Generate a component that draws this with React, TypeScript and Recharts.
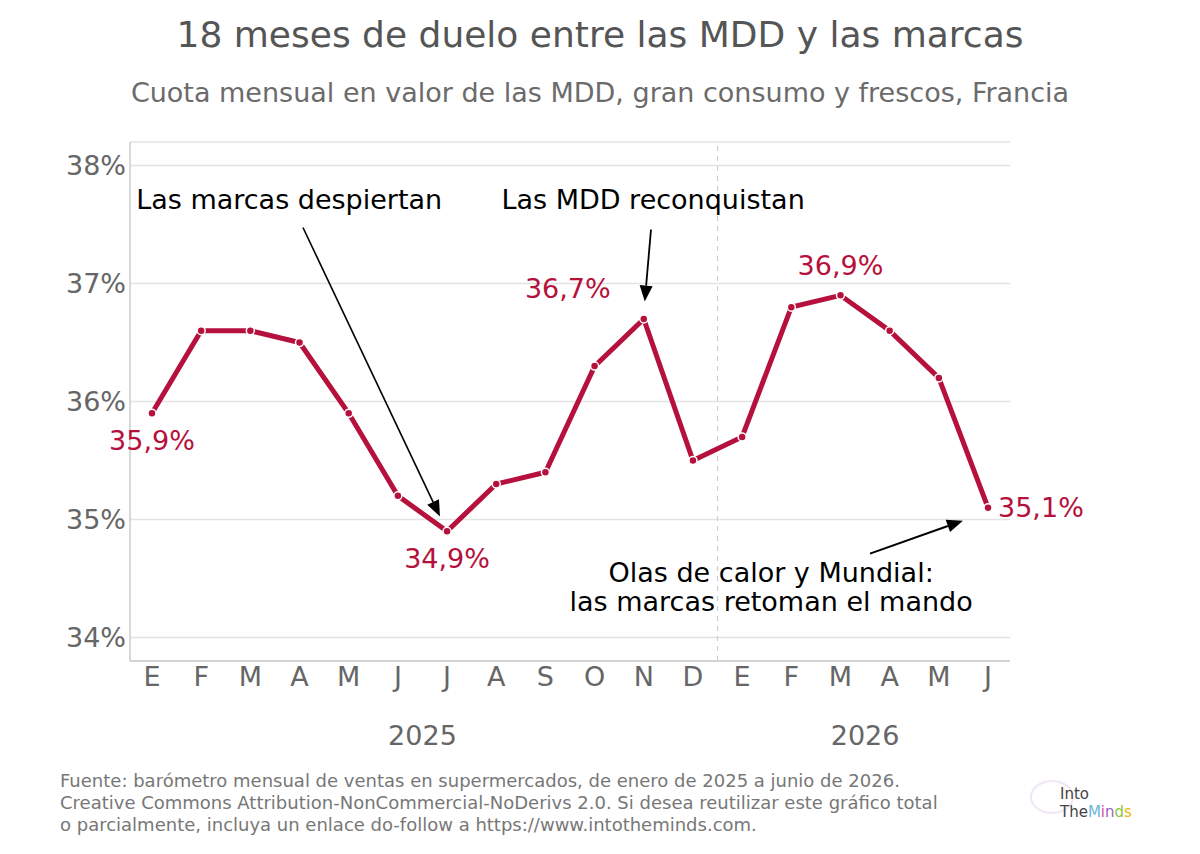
import { LineChart, Line, XAxis, YAxis, CartesianGrid, ReferenceLine, ReferenceDot, LabelList } from "recharts";

const months = ["E", "F", "M", "A", "M", "J", "J", "A", "S", "O", "N", "D", "E", "F", "M", "A", "M", "J"];
const shares = [35.9, 36.6, 36.6, 36.5, 35.9, 35.2, 34.9, 35.3, 35.4, 36.3, 36.7, 35.5, 35.7, 36.8, 36.9, 36.6, 36.2, 35.1];
const yTicks = [34, 35, 36, 37, 38];
const years = ["2025", "2026"];
const yearTicks = [5.5, 14.5];
const labelledPoints = [0, 6, 10, 14, 17];

const RED = "#b5113c";
const FONT = "'DejaVu Sans', Verdana, sans-serif";
const X_DOMAIN: [number, number] = [-0.447, 17.447];

const data = shares.map((v, i) => ({ idx: i, share: v }));

// label offsets relative to the point (px)
const labelOffsets: Record<number, { dx: number; dy: number; anchor: string }> = {
  0: { dx: 0, dy: 27, anchor: "middle" },
  6: { dx: 0, dy: 27, anchor: "middle" },
  10: { dx: -76, dy: -30, anchor: "middle" },
  14: { dx: 0, dy: -30, anchor: "middle" },
  17: { dx: 10, dy: 0, anchor: "start" },
};

const notes = [
  { x: 2.79, y: 37.71, text: "Las marcas despiertan" },
  { x: 10.19, y: 37.71, text: "Las MDD reconquistan" },
  { x: 12.59, y: 34.55, text: "Olas de calor y Mundial:" },
  { x: 12.59, y: 34.305, text: "las marcas retoman el mando" },
];

const arrows = [
  { from: { x: 3.07, y: 37.475 }, to: { x: 5.856, y: 35.025 }, w: 1.6 },
  { from: { x: 10.147, y: 37.458 }, to: { x: 10.02, y: 36.847 }, w: 1.8 },
  { from: { x: 14.6, y: 34.71 }, to: { x: 16.49, y: 34.99 }, w: 2 },
];

const fmt = (v: number) => `${v.toFixed(1).replace(".", ",")}%`;

const Arrow = (w: number) => (p: any) => {
  const { x1, y1, x2, y2 } = p;
  const ang = Math.atan2(y2 - y1, x2 - x1);
  const len = 16;
  const half = 6.5;
  const bx = x2 - len * Math.cos(ang);
  const by = y2 - len * Math.sin(ang);
  const nx = -Math.sin(ang) * half;
  const ny = Math.cos(ang) * half;
  return (
    <g>
      <line x1={x1} y1={y1} x2={bx} y2={by} stroke="#000" strokeWidth={w} />
      <polygon points={`${x2},${y2} ${bx + nx},${by + ny} ${bx - nx},${by - ny}`} fill="#000" />
    </g>
  );
};

const PointLabel = (p: any) => {
  const { x, y, index, value } = p;
  const o = labelOffsets[index];
  if (!o) return null;
  return (
    <text x={x + o.dx} y={y + o.dy} textAnchor={o.anchor} dominantBaseline="central" fill={RED} fontSize={27} fontFamily={FONT}>
      {fmt(value)}
    </text>
  );
};

const Note = (text: string) => (p: any) => (
  <text x={p.cx} y={p.cy} textAnchor="middle" dominantBaseline="central" fill="#000" fontSize={27} fontFamily={FONT}>
    {text}
  </text>
);

export default function App() {
  return (
    <div style={{ position: "absolute", left: 0, top: 0, width: 1200, height: 854, background: "#fff", fontFamily: FONT }}>
      <div style={{ position: "absolute", top: 12, width: 1200, textAlign: "center", fontSize: 36, color: "#555", lineHeight: "46px" }}>
        18 meses de duelo entre las MDD y las marcas
      </div>
      <div style={{ position: "absolute", top: 76, width: 1200, textAlign: "center", fontSize: 27, color: "#6b6b6b", lineHeight: "34px" }}>
        Cuota mensual en valor de las MDD, gran consumo y frescos, Francia
      </div>
      <div style={{ position: "absolute", top: 0, left: 0 }}>
        <LineChart width={1200} height={770} data={data} margin={{ top: 142, right: 190, bottom: 0, left: 0 }}>
          <CartesianGrid xAxisId="m" vertical={false} stroke="#e3e3e3" strokeWidth={1.5} />
          <XAxis
            xAxisId="m"
            dataKey="idx"
            type="number"
            domain={X_DOMAIN}
            allowDataOverflow
            ticks={months.map((_, i) => i)}
            interval={0}
            tickFormatter={(i: number) => months[i]}
            tickLine={false}
            tickSize={0}
            tickMargin={6}
            height={50}
            stroke="#cccccc"
            strokeWidth={1.5}
            tick={{ fill: "#666", fontSize: 27, fontFamily: FONT }}
          />
          <XAxis
            xAxisId="y"
            dataKey="idx"
            type="number"
            domain={X_DOMAIN}
            allowDataOverflow
            ticks={yearTicks}
            interval={0}
            tickFormatter={(v: number) => years[yearTicks.indexOf(v)]}
            axisLine={false}
            tickLine={false}
            tickSize={0}
            tickMargin={15}
            height={59}
            tick={{ fill: "#666", fontSize: 27, fontFamily: FONT }}
          />
          <YAxis
            domain={[33.8, 38.2]}
            ticks={yTicks}
            tickFormatter={(v: number) => `${v}%`}
            width={130}
            tickLine={false}
            tickSize={0}
            tickMargin={4}
            stroke="#cccccc"
            strokeWidth={1.5}
            tick={{ fill: "#666", fontSize: 27, fontFamily: FONT }}
          />
          <ReferenceLine xAxisId="m" x={11.5} stroke="#cfcfcf" strokeWidth={1.2} strokeDasharray="5 5" />
          <Line
            xAxisId="m"
            dataKey="share"
            type="linear"
            stroke={RED}
            strokeWidth={5}
            dot={{ r: 4, fill: RED, stroke: "#fff", strokeWidth: 1.5 }}
            activeDot={false}
            isAnimationActive={false}
          >
            <LabelList dataKey="share" content={(p: any) => (labelledPoints.includes(p.index) ? <PointLabel {...p} /> : null)} />
          </Line>
          {arrows.map((a, i) => (
            <ReferenceLine
              key={`a${i}`}
              xAxisId="m"
              segment={[a.from, a.to]}
              ifOverflow="visible"
              shape={Arrow(a.w)}
            />
          ))}
          {notes.map((n, i) => (
            <ReferenceDot key={`n${i}`} xAxisId="m" x={n.x} y={n.y} r={0} ifOverflow="visible" shape={Note(n.text)} />
          ))}
        </LineChart>
      </div>
      <div style={{ position: "absolute", left: 60, top: 770, fontSize: 18, color: "#777", lineHeight: "22px" }}>
        <div>Fuente: barómetro mensual de ventas en supermercados, de enero de 2025 a junio de 2026.</div>
        <div>Creative Commons Attribution-NonCommercial-NoDerivs 2.0. Si desea reutilizar este gráfico total</div>
        <div>o parcialmente, incluya un enlace do-follow a https://www.intotheminds.com.</div>
      </div>
      <div style={{ position: "absolute", left: 1030, top: 780, width: 40, height: 30, borderRadius: "50%", border: "2px solid #eadcf2", opacity: 0.7 }} />
      <div style={{ position: "absolute", left: 1060, top: 785, fontSize: 15, lineHeight: "18px", color: "#444" }}>
        <div>Into</div>
        <div>
          The<span style={{ color: "#6ab7e0" }}>M</span>
          <span style={{ color: "#e0559a" }}>i</span>
          <span style={{ color: "#9a5fc0" }}>n</span>
          <span style={{ color: "#8cc63f" }}>d</span>
          <span style={{ color: "#f0b400" }}>s</span>
        </div>
      </div>
    </div>
  );
}
